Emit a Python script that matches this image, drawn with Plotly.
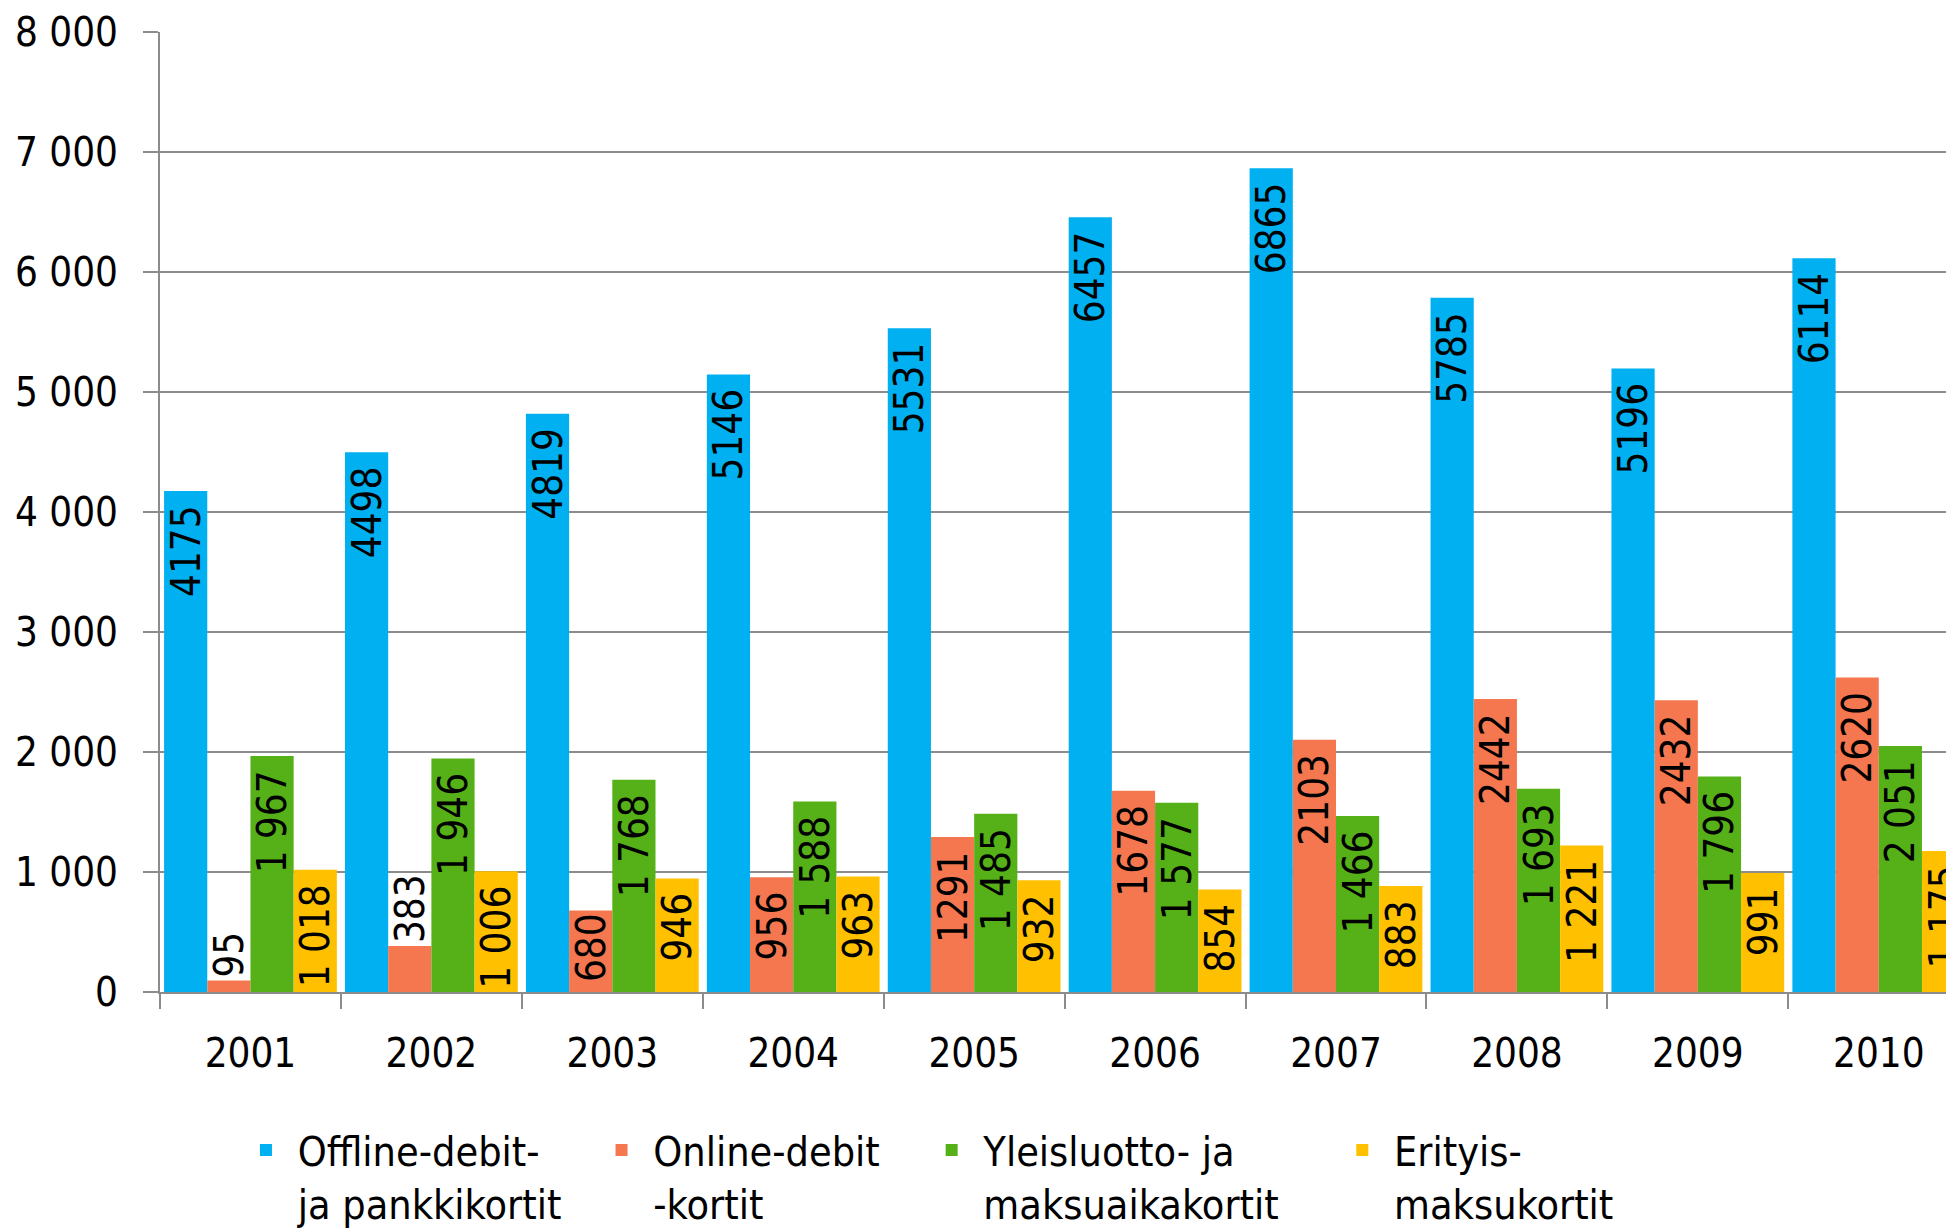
import plotly.graph_objects as go

years = ["2001", "2002", "2003", "2004", "2005", "2006", "2007", "2008", "2009", "2010"]
offline = [4175, 4498, 4819, 5146, 5531, 6457, 6865, 5785, 5196, 6114]
online = [95, 383, 680, 956, 1291, 1678, 2103, 2442, 2432, 2620]
yleis = [1967, 1946, 1768, 1588, 1485, 1577, 1466, 1693, 1796, 2051]
erityis = [1018, 1006, 946, 963, 932, 854, 883, 1221, 991, 1175]

NB = "\u00a0"
series_names = [
    NB + "Offline-debit-<br>" + NB + "ja pankkikortit" + NB * 3,
    NB + "Online-debit" + NB * 4 + "<br>" + NB + "-kortit",
    NB + "Yleisluotto- ja<br>" + NB + "maksuaikakortit" + NB * 5,
    NB + "Erityis-<br>" + NB + "maksukortit",
]
colors = ["#00B0F0", "#F4774F", "#56B118", "#FFC000"]

FONT = "DejaVu Sans Condensed, Liberation Sans Narrow, DejaVu Sans, sans-serif"


def plain(vals):
    # trailing space keeps the label off the bar top, like the original
    return [f"{v}{NB}" if v >= 800 else str(v) for v in vals]


def spaced(vals):
    return [f"{v:,}".replace(",", " ") + NB for v in vals]


fig = go.Figure()
for name, vals, texts, color in zip(
        series_names,
        [offline, online, yleis, erityis],
        [plain(offline), plain(online), spaced(yleis), spaced(erityis)],
        colors):
    fig.add_trace(go.Bar(
        x=years, y=vals, name=name,
        marker=dict(color=color, line=dict(width=0)),
        text=texts,
        textposition=["outside" if v < 500 else "inside" for v in vals],
        constraintext="none",
        textangle=-90,
        insidetextanchor="end",
        insidetextfont=dict(color="black", size=40, family=FONT),
        outsidetextfont=dict(color="black", size=40, family=FONT),
        cliponaxis=False,
    ))

fig.update_layout(
    barmode="group",
    bargap=0.045,
    bargroupgap=0,
    width=1954, height=1229,
    margin=dict(l=152, r=0, t=24, b=241),
    plot_bgcolor="white", paper_bgcolor="white",
    separators=". ",
    font=dict(family=FONT, size=40, color="black"),
    legend=dict(
        orientation="h", x=0.0477, y=-0.13, xanchor="left", yanchor="top",
        font=dict(family=FONT, size=41), valign="top",
        itemwidth=30, tracegroupgap=0,
    ),
)
fig.update_xaxes(
    range=[-0.5, 9.46], tickson="boundaries", ticks="outside", ticklen=15,
    tickcolor="#8C8C8C", tickwidth=2, showline=True, linecolor="#8C8C8C",
    linewidth=2, ticklabelstandoff=25, tickfont=dict(size=40),
)
fig.update_yaxes(
    range=[0, 8000], dtick=1000, tickformat=",d", ticks="outside", ticklen=15,
    tickcolor="#8C8C8C", tickwidth=2, showline=True, linecolor="#8C8C8C",
    linewidth=2, showgrid=True, gridcolor="#8C8C8C", gridwidth=2,
    ticklabelstandoff=17, tickfont=dict(size=40), zeroline=False,
)

fig.write_html("out.html")
